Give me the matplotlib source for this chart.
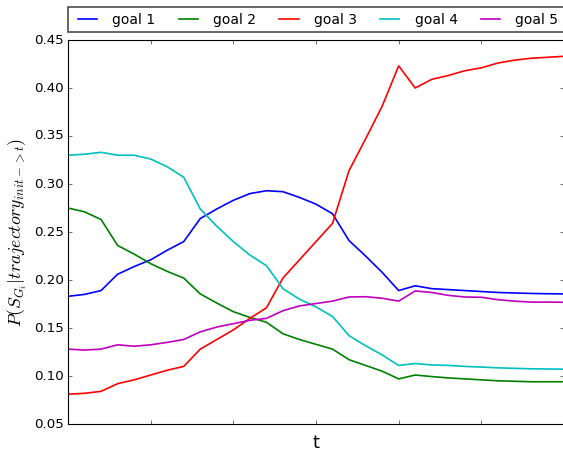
import matplotlib
matplotlib.use("Agg")
import matplotlib.pyplot as plt
import numpy as np

plt.style.use("classic")
plt.rcParams["mathtext.fontset"] = "cm"

# time steps along the trajectory
t = np.arange(31)

goal_1 = [0.183, 0.185, 0.189, 0.206, 0.214, 0.221, 0.231, 0.240, 0.264, 0.274,
          0.283, 0.290, 0.293, 0.292, 0.286, 0.279, 0.269, 0.241, 0.225, 0.208,
          0.189, 0.194, 0.191, 0.190, 0.189, 0.188, 0.187, 0.1865, 0.186, 0.1857,
          0.1855]
goal_2 = [0.275, 0.271, 0.263, 0.236, 0.227, 0.217, 0.209, 0.202, 0.1855, 0.176,
          0.167, 0.161, 0.156, 0.144, 0.138, 0.133, 0.128, 0.117, 0.111, 0.105,
          0.097, 0.101, 0.0994, 0.098, 0.097, 0.096, 0.095, 0.0945, 0.094, 0.094,
          0.094]
goal_3 = [0.081, 0.082, 0.084, 0.092, 0.096, 0.101, 0.106, 0.110, 0.128, 0.138,
          0.148, 0.160, 0.171, 0.202, 0.221, 0.240, 0.259, 0.314, 0.347, 0.381,
          0.423, 0.400, 0.409, 0.413, 0.418, 0.421, 0.426, 0.429, 0.431, 0.432,
          0.433]
goal_4 = [0.330, 0.331, 0.333, 0.330, 0.330, 0.326, 0.318, 0.307, 0.274, 0.256,
          0.240, 0.226, 0.215, 0.191, 0.180, 0.172, 0.162, 0.142, 0.1315, 0.122,
          0.111, 0.113, 0.1115, 0.111, 0.110, 0.1093, 0.1085, 0.108, 0.1075, 0.1073,
          0.1071]
goal_5 = [0.128, 0.127, 0.128, 0.1325, 0.131, 0.1325, 0.135, 0.138, 0.146, 0.151,
          0.1545, 0.158, 0.160, 0.168, 0.173, 0.1755, 0.178, 0.1823, 0.1826, 0.181,
          0.178, 0.1886, 0.187, 0.184, 0.1823, 0.182, 0.1795, 0.178, 0.177, 0.177,
          0.1768]

series = [goal_1, goal_2, goal_3, goal_4, goal_5]
labels = ["goal 1", "goal 2", "goal 3", "goal 4", "goal 5"]
colors = ["b", "g", "r", "c", "m"]

fig = plt.figure(figsize=(563 / 80, 454 / 80), dpi=80, facecolor="white")
ax = fig.add_axes([68 / 563, 30 / 454, 496 / 563, 384 / 454])

for values, label, color in zip(series, labels, colors):
    ax.plot(t, values, color=color, linewidth=1.5, label=label)

ax.set_xlim(0, 30)
ax.set_ylim(0.05, 0.45)
ax.set_xticks(np.arange(0, 31, 5))
ax.set_xticklabels([])
ax.set_yticks(np.arange(0.05, 0.451, 0.05))
ax.set_yticklabels(["%.2f" % v for v in np.arange(0.05, 0.451, 0.05)])
ax.set_xlabel("t", fontsize=16, labelpad=5)
ax.set_ylabel(r"$P(S_{G_i}|trajectory_{init->t})$", fontsize=16, labelpad=4)

leg = ax.legend(bbox_to_anchor=(0.0, 1.02, 1.0, 0.102), loc=3, ncol=5,
                mode="expand", borderaxespad=0.0, fontsize=12.5, borderpad=0.4)
leg.get_frame().set_edgecolor("0.3")
leg.get_frame().set_linewidth(1.5)

fig.savefig("out.png", dpi=80, facecolor="white")
